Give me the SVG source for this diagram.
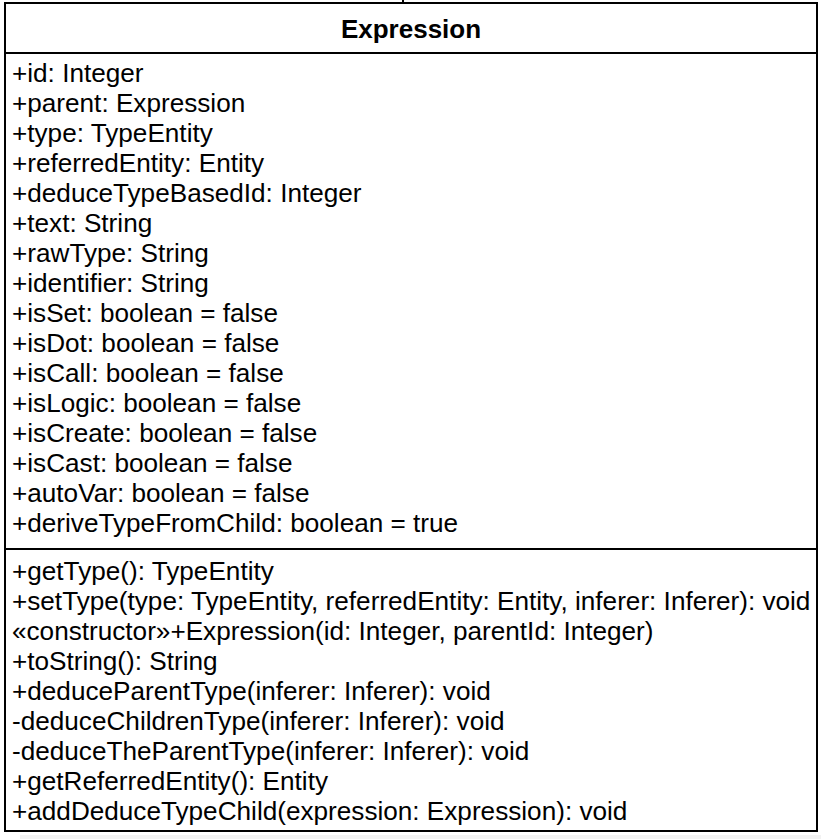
<svg xmlns="http://www.w3.org/2000/svg" width="821" height="839" viewBox="0 0 821 839">
  <style>
    .frame { fill: #ffffff; stroke: #000000; stroke-width: 2; }
    .sep { stroke: #000000; stroke-width: 2; }
    .title { font-family: "Liberation Sans", Arial, sans-serif; font-size: 26px; font-weight: bold; fill: #000000; text-anchor: middle; }
    .member { font-family: "Liberation Sans", Arial, sans-serif; font-size: 26.15px; fill: #000000; }
  </style>
  <rect x="0" y="0" width="821" height="839" fill="#ffffff"/>
  <rect x="20" y="835" width="801" height="4" fill="#f2f2f2"/>
  <rect x="402" y="0" width="2" height="2" fill="#000000"/>
  <g id="class-Expression">
    <rect class="frame" x="5" y="3" width="812" height="828"/>
    <line class="sep" x1="5" y1="53" x2="817" y2="53"/>
    <line class="sep" x1="5" y1="549" x2="817" y2="549"/>
    <text class="title" x="411" y="38">Expression</text>
    <g id="attributes">
      <text class="member" x="12" y="82">+id: Integer</text>
      <text class="member" x="12" y="112">+parent: Expression</text>
      <text class="member" x="12" y="142">+type: TypeEntity</text>
      <text class="member" x="12" y="172">+referredEntity: Entity</text>
      <text class="member" x="12" y="202">+deduceTypeBasedId: Integer</text>
      <text class="member" x="12" y="232">+text: String</text>
      <text class="member" x="12" y="262">+rawType: String</text>
      <text class="member" x="12" y="292">+identifier: String</text>
      <text class="member" x="12" y="322">+isSet: boolean = false</text>
      <text class="member" x="12" y="352">+isDot: boolean = false</text>
      <text class="member" x="12" y="382">+isCall: boolean = false</text>
      <text class="member" x="12" y="412">+isLogic: boolean = false</text>
      <text class="member" x="12" y="442">+isCreate: boolean = false</text>
      <text class="member" x="12" y="472">+isCast: boolean = false</text>
      <text class="member" x="12" y="502">+autoVar: boolean = false</text>
      <text class="member" x="12" y="532">+deriveTypeFromChild: boolean = true</text>
    </g>
    <g id="operations">
      <text class="member" x="12" y="580">+getType(): TypeEntity</text>
      <text class="member" x="12" y="610">+setType(type: TypeEntity, referredEntity: Entity, inferer: Inferer): void</text>
      <text class="member" x="12" y="640">«constructor»+Expression(id: Integer, parentId: Integer)</text>
      <text class="member" x="12" y="670">+toString(): String</text>
      <text class="member" x="12" y="700">+deduceParentType(inferer: Inferer): void</text>
      <text class="member" x="12" y="730">-deduceChildrenType(inferer: Inferer): void</text>
      <text class="member" x="12" y="760">-deduceTheParentType(inferer: Inferer): void</text>
      <text class="member" x="12" y="790">+getReferredEntity(): Entity</text>
      <text class="member" x="12" y="820">+addDeduceTypeChild(expression: Expression): void</text>
    </g>
  </g>
</svg>
